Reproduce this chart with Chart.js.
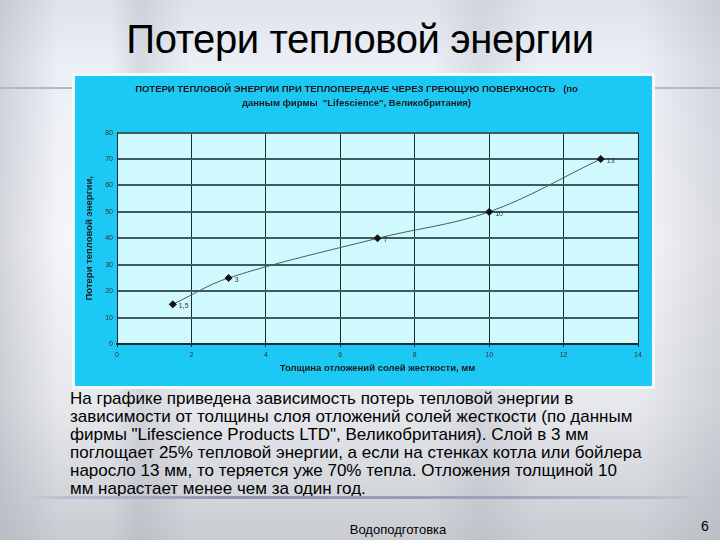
<!DOCTYPE html>
<html>
<head>
<meta charset="utf-8">
<script src="https://cdn.jsdelivr.net/npm/chart.js@4.4.1/dist/chart.umd.min.js"></script>
<style>
  html, body { margin: 0; padding: 0; }
  body {
    width: 720px; height: 540px; position: relative; overflow: hidden;
    font-family: "Liberation Sans", Arial, sans-serif;
    background:
      linear-gradient(90deg, rgba(150,155,165,0.35) 0px, rgba(255,255,255,0) 60px, rgba(255,255,255,0) 110px, rgba(150,155,165,0.25) 140px, rgba(255,255,255,0) 190px, rgba(255,255,255,0) 430px, rgba(160,165,175,0.25) 480px, rgba(255,255,255,0) 540px, rgba(255,255,255,0) 640px, rgba(150,155,165,0.3) 720px),
      linear-gradient(180deg, #dde2ec 0%, #eceff6 12%, #f5f6f9 45%, #e6e8ec 75%, #c9ccd2 100%);
  }
  #title {
    position: absolute; left: 0; width: 720px; top: 17px; text-align: center;
    font-size: 40px; color: #000; letter-spacing: -0.4px;
  }
  #deco { position: absolute; left: 0; top: 87px; width: 720px; height: 2px; background: #b4b8c0; }
  #box {
    position: absolute; left: 72px; top: 73px; width: 577px; height: 310px;
    border: 3px solid #f4f8fb; background: #1cc8f4;
  }
  #text {
    position: absolute; left: 70px; top: 390px; width: 640px;
    font-size: 17px; line-height: 18px; color: #000;
  }
  #sep {
    position: absolute; left: 22px; top: 496px; width: 668px; height: 3px;
    background: linear-gradient(90deg, #c8ccd6, #8c96b4 30%, #9aa2bc 70%, #c0c4cc);
  }
  #foot { position: absolute; left: 300px; width: 196px; top: 522px; text-align: center; font-size: 13px; }
  #num { position: absolute; left: 701px; top: 518px; font-size: 14px; }
</style>
</head>
<body>
<div id="title">Потери тепловой энергии</div>
<div id="deco"></div>
<div id="box"><canvas id="lossChart" width="577" height="310"></canvas></div>
<div id="text">На графике приведена зависимость потерь тепловой энергии в<br>зависимости от толщины слоя отложений солей жесткости (по данным<br>фирмы "Lifescience Products LTD", Великобритания). Слой в 3 мм<br>поглощает 25% тепловой энергии, а если на стенках котла или бойлера<br>наросло 13 мм, то теряется уже 70% тепла. Отложения толщиной 10<br>мм нарастает менее чем за один год.</div>
<div id="sep"></div>
<div id="foot">Водоподготовка</div>
<div id="num">6</div>
<script>
// Thickness of scale deposit, mm and heat loss, %
const thickness = [1.5, 3, 7, 10, 13];
const heatLoss = [15, 25, 40, 50, 70];
const pointLabels = ['1,5', '3', '7', '10', '13'];

const chartTitle = [
    'ПОТЕРИ ТЕПЛОВОЙ ЭНЕРГИИ ПРИ ТЕПЛОПЕРЕДАЧЕ ЧЕРЕЗ ГРЕЮЩУЮ ПОВЕРХНОСТЬ   (по',
    'данным фирмы  "Lifescience", Великобритания)'
];
const xTitle = 'Толщина отложений солей жесткости, мм';
const yTitle = 'Потери тепловой энергии,';

// Light plot area background
Chart.register({
    id: 'plotBg',
    beforeDraw: function(chart) {
        const a = chart.chartArea;
        const ctx = chart.ctx;
        ctx.save();
        ctx.fillStyle = '#cff9fd';
        ctx.fillRect(a.left, a.top, a.right - a.left, a.bottom - a.top);
        ctx.restore();
    }
});

// Value labels to the right of each point
Chart.register({
    id: 'pointText',
    afterDatasetsDraw: function(chart) {
        const ctx = chart.ctx;
        const meta = chart.getDatasetMeta(0);
        ctx.save();
        ctx.font = '7px "Liberation Sans", Arial';
        ctx.fillStyle = '#333';
        ctx.textBaseline = 'middle';
        meta.data.forEach(function(pt, i) {
            ctx.fillText(pointLabels[i], pt.x + 6, pt.y + 2);
        });
        ctx.restore();
    }
});

const ctx = document.getElementById('lossChart').getContext('2d');
new Chart(ctx, {
    type: 'scatter',
    data: {
        datasets: [{
            data: thickness.map((x, i) => ({ x: x, y: heatLoss[i] })),
            showLine: true,
            borderColor: '#4c5c60',
            borderWidth: 1,
            tension: 0.35,
            pointStyle: 'rectRot',
            pointRadius: 3.5,
            pointBackgroundColor: '#111',
            pointBorderColor: '#111'
        }]
    },
    options: {
        responsive: false,
        animation: false,
        layout: { padding: { left: 0, right: 14, top: 0, bottom: 0 } },
        plugins: {
            legend: { display: false },
            tooltip: { enabled: false },
            title: {
                display: true,
                text: chartTitle,
                color: '#1a1a1a',
                font: { family: '"Liberation Sans", Arial', size: 9.5, weight: 'bold', lineHeight: 1.4 },
                padding: { top: 7, bottom: 23 }
            }
        },
        scales: {
            x: {
                min: 0, max: 14,
                ticks: { stepSize: 2, color: '#333', font: { size: 7 }, padding: 4 },
                grid: { color: '#1d2b2e', lineWidth: 1, tickLength: 3 },
                border: { color: '#1d2b2e', width: 2 },
                title: { display: true, text: xTitle, color: '#1a1a1a', font: { size: 9.5, weight: 'bold' }, padding: { top: 0, bottom: 12 } },
                afterFit: function(scale) { scale.height = 42; }
            },
            y: {
                min: 0, max: 80,
                ticks: { stepSize: 10, color: '#333', font: { size: 7 }, padding: 4 },
                grid: { color: '#3f5c64', lineWidth: 2, tickLength: 0 },
                border: { color: '#1d2b2e', width: 1 },
                title: { display: true, text: yTitle, color: '#1a1a1a', font: { size: 9.5, weight: 'bold' }, padding: { top: 9 } },
                afterFit: function(scale) { scale.width = 42; }
            }
        }
    }
});
</script>
</body>
</html>
